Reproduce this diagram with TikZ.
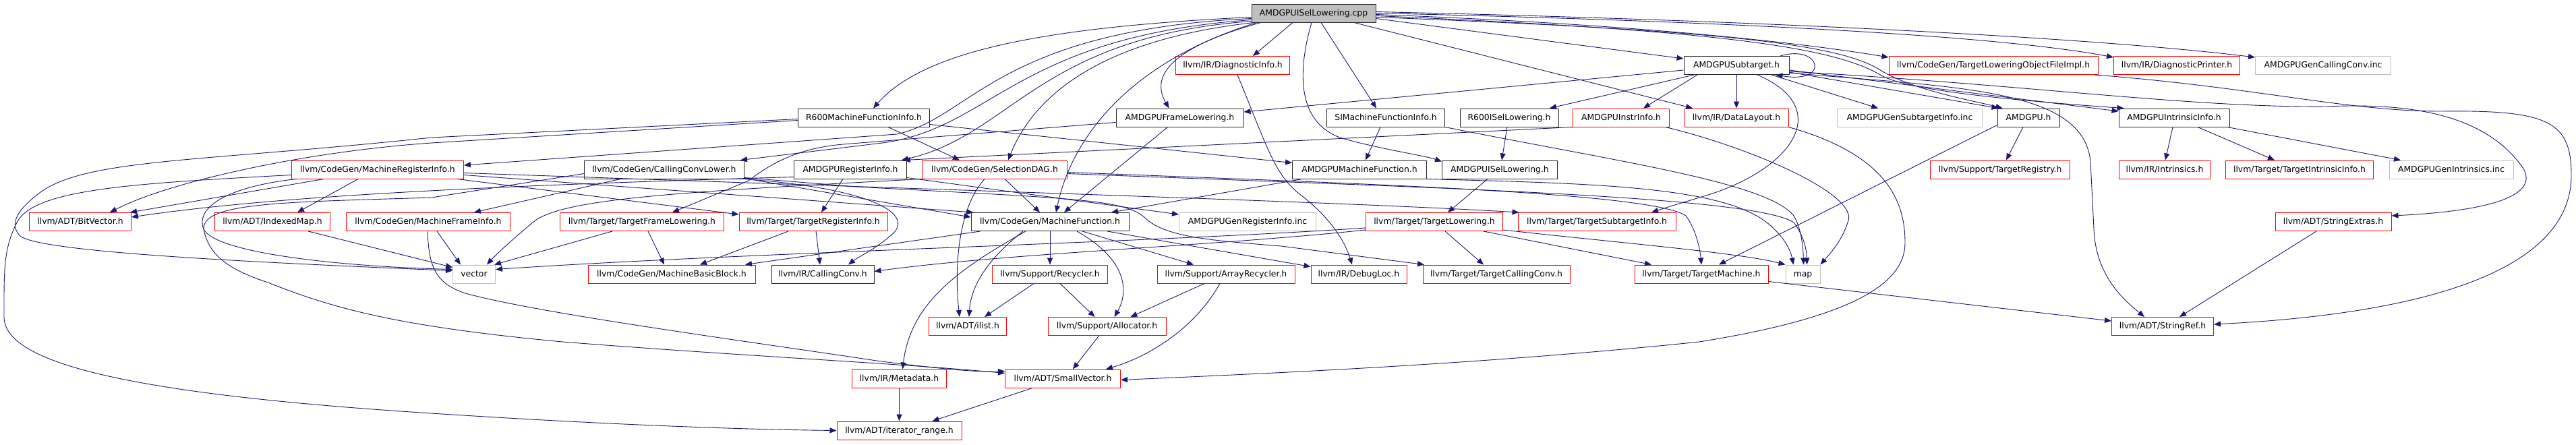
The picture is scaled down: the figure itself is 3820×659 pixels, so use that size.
\documentclass[tikz,border=0pt]{standalone}
\usepackage{fontspec}
\setmainfont{DejaVu Sans}
\usetikzlibrary{arrows.meta}
\definecolor{edgec}{RGB}{25,25,112}
\definecolor{redc}{RGB}{255,0,0}
\definecolor{grayc}{RGB}{191,191,191}
\definecolor{blkc}{RGB}{40,40,40}
\newcommand{\nf}{\fontsize{12.4}{14}\selectfont}
\begin{document}
\begin{tikzpicture}[x=1pt,y=-1pt,
  box/.style={draw, rectangle, minimum height=27pt, inner sep=0pt, line width=1pt,
              font=\nf, text=black, fill=white, text height=9.5pt, text depth=2.5pt},
  blk/.style={box, draw=blkc},
  redb/.style={box, draw=redc},
  grayb/.style={box, draw=grayc},
  rootb/.style={box, draw=blkc, fill=grayc},
  edg/.style={draw=edgec, line width=0.9pt, -{Triangle[length=10pt,width=8pt]}}]
\fill[white] (0,0) rectangle (3820,659);
\useasboundingbox (0,0) rectangle (3820,659);

% ---------- nodes ----------
\node[rootb, minimum width=184pt] (root) at (1948,19.5) {AMDGPUISelLowering.cpp};
% row 1
\node[redb, minimum width=169pt] (diaginfo) at (1828,97) {llvm/IR/DiagnosticInfo.h};
\node[blk, minimum width=156pt] (subtarget) at (2575,97) {AMDGPUSubtarget.h};
\node[redb, minimum width=310pt] (tloofi) at (2956,97) {llvm/CodeGen/TargetLoweringObjectFileImpl.h};
\node[redb, minimum width=187pt] (diagprinter) at (3228,97) {llvm/IR/DiagnosticPrinter.h};
\node[grayb, minimum width=201pt] (gencc) at (3445,97) {AMDGPUGenCallingConv.inc};
% row 2
\node[blk, minimum width=195pt] (r600mfi) at (1281,174.5) {R600MachineFunctionInfo.h};
\node[blk, minimum width=189pt] (framelow) at (1749.5,174.5) {AMDGPUFrameLowering.h};
\node[blk, minimum width=175pt] (simfi) at (2055,174.5) {SIMachineFunctionInfo.h};
\node[blk, minimum width=146pt] (r600isel) at (2238,174.5) {R600ISelLowering.h};
\node[redb, minimum width=143pt] (instrinfo) at (2404,174.5) {AMDGPUInstrInfo.h};
\node[redb, minimum width=154pt] (datalayout) at (2575,174.5) {llvm/IR/DataLayout.h};
\node[grayb, minimum width=215pt] (gensti) at (2832,174.5) {AMDGPUGenSubtargetInfo.inc};
\node[blk, minimum width=92pt] (amdgpu) at (3008,174.5) {AMDGPU.h};
\node[blk, minimum width=164pt] (intrinfo) at (3224,174.5) {AMDGPUIntrinsicInfo.h};
% row 3
\node[redb, minimum width=255pt] (mri) at (560,251.5) {llvm/CodeGen/MachineRegisterInfo.h};
\node[blk, minimum width=237pt] (ccl) at (985,251.5) {llvm/CodeGen/CallingConvLower.h};
\node[blk, minimum width=167pt] (reginfo) at (1261,251.5) {AMDGPURegisterInfo.h};
\node[redb, minimum width=215pt] (seldag) at (1475,251.5) {llvm/CodeGen/SelectionDAG.h};
\node[blk, minimum width=199pt] (amdgpumf) at (2016,251.5) {AMDGPUMachineFunction.h};
\node[blk, minimum width=171pt] (isel) at (2224,251.5) {AMDGPUISelLowering.h};
\node[redb, minimum width=207pt] (treg) at (2966,251.5) {llvm/Support/TargetRegistry.h};
\node[redb, minimum width=135pt] (intrinsics) at (3210,251.5) {llvm/IR/Intrinsics.h};
\node[redb, minimum width=219pt] (tii) at (3410,251.5) {llvm/Target/TargetIntrinsicInfo.h};
\node[grayb, minimum width=184pt] (genintr) at (3635,251.5) {AMDGPUGenIntrinsics.inc};
% row 4
\node[redb, minimum width=151pt] (bitvec) at (119,329) {llvm/ADT/BitVector.h};
\node[redb, minimum width=171pt] (idxmap) at (404,329) {llvm/ADT/IndexedMap.h};
\node[redb, minimum width=243pt] (mfi) at (635,329) {llvm/CodeGen/MachineFrameInfo.h};
\node[redb, minimum width=243pt] (tfl) at (952,329) {llvm/Target/TargetFrameLowering.h};
\node[redb, minimum width=220pt] (tri) at (1206,329) {llvm/Target/TargetRegisterInfo.h};
\node[blk, minimum width=234pt] (mf) at (1557,329) {llvm/CodeGen/MachineFunction.h};
\node[grayb, minimum width=203pt] (genreg) at (1850,329) {AMDGPUGenRegisterInfo.inc};
\node[redb, minimum width=203pt] (tl) at (2127,329) {llvm/Target/TargetLowering.h};
\node[redb, minimum width=234pt] (tsi) at (2368,329) {llvm/Target/TargetSubtargetInfo.h};
\node[redb, minimum width=172pt] (strext) at (3460,329) {llvm/ADT/StringExtras.h};
% row 5
\node[grayb, minimum width=63pt] (vector) at (703,406.5) {vector};
\node[redb, minimum width=248pt] (mbb) at (996,406.5) {llvm/CodeGen/MachineBasicBlock.h};
\node[blk, minimum width=152pt] (callconv) at (1220,406.5) {llvm/IR/CallingConv.h};
\node[redb, minimum width=171pt] (recycler) at (1557,406.5) {llvm/Support/Recycler.h};
\node[redb, minimum width=204pt] (arrayrec) at (1818,406.5) {llvm/Support/ArrayRecycler.h};
\node[redb, minimum width=142pt] (debugloc) at (2015,406.5) {llvm/IR/DebugLoc.h};
\node[redb, minimum width=218pt] (tcc) at (2219,406.5) {llvm/Target/TargetCallingConv.h};
\node[redb, minimum width=198pt] (tm) at (2523,406.5) {llvm/Target/TargetMachine.h};
\node[grayb, minimum width=51pt] (map) at (2673.5,406.5) {map};
% row 6
\node[redb, minimum width=115pt] (ilist) at (1435,484) {llvm/ADT/ilist.h};
\node[redb, minimum width=175pt] (alloc) at (1641.5,484) {llvm/Support/Allocator.h};
\node[redb, minimum width=151pt] (stringref) at (3207,484) {llvm/ADT/StringRef.h};
% row 7
\node[redb, minimum width=140pt] (metadata) at (1333.5,561.5) {llvm/IR/Metadata.h};
\node[redb, minimum width=171pt] (smallvec) at (1576,561.5) {llvm/ADT/SmallVector.h};
% row 8
\node[redb, minimum width=185pt] (iterrange) at (1333.5,638.5) {llvm/ADT/iterator\_range.h};

% ---------- edges from root ----------
\draw[edg] ([yshift=-6pt]root.west) .. controls (1550,40) and (1370,75) .. ([xshift=14pt]r600mfi.north);
\draw[edg] ([yshift=-8pt]root.west) .. controls (1480,45) and (1440,175) .. (1330,199) -- ([yshift=6.5pt]mri.east);
\draw[edg] ([yshift=-10pt]root.west) .. controls (1500,55) and (1470,195) .. (1300,213) -- ([xshift=113pt]ccl.north);
\draw[edg] ([yshift=-12pt]root.west) .. controls (1540,55) and (1500,200) .. ([xshift=76pt]reginfo.north);
\draw[edg] ([xshift=4pt]root.south west) .. controls (1620,60) and (1530,150) .. ([xshift=20pt]seldag.north);
\draw[edg] ([xshift=8pt]root.south west) .. controls (1680,90) and (1590,200) .. ([xshift=9pt]mf.north);
\draw[edg] ([xshift=14pt]root.south west) .. controls (1720,75) and (1710,120) .. ([xshift=-16pt]framelow.north);
\draw[edg] ([xshift=-31pt]root.south) -- ([xshift=30pt]diaginfo.north);
\draw[edg] ([xshift=-3pt]root.south) .. controls (1920,120) and (1930,185) .. (1990,205) .. controls (2050,222) and (2110,230) .. ([yshift=-2pt]isel.north west);
\draw[edg] ([xshift=11pt]root.south) -- ([xshift=-14pt]simfi.north);
\draw[edg] ([xshift=60pt]root.south) -- ([xshift=-65pt]datalayout.north);
\draw[edg] ([yshift=-8pt]root.east) -- ([yshift=10pt]subtarget.west);
\draw[edg] ([yshift=-6pt]root.east) .. controls (2550,45) and (2730,65) .. (2790,105) .. controls (2840,135) and (2930,150) .. ([xshift=8pt]amdgpu.north west);
\draw[edg] ([yshift=-4pt]root.east) .. controls (2550,45) and (2720,70) .. (2790,112) .. controls (2830,135) and (3000,150) .. ([xshift=8pt]intrinfo.north west);
\draw[edg] ([yshift=-2pt]root.east) .. controls (2400,35) and (2650,60) .. ([yshift=12pt]tloofi.west);
\draw[edg] ([yshift=0pt]root.east) .. controls (2500,30) and (2950,50) .. ([yshift=12pt]diagprinter.west);
\draw[edg] ([yshift=2pt]root.east) .. controls (2600,30) and (3100,55) .. ([yshift=12pt]gencc.west);

% ---------- AMDGPUSubtarget.h ----------
\draw[edg] ([xshift=65pt]subtarget.north) .. controls (2700,65) and (2715,125) .. ([xshift=-20pt]subtarget.south east);
\draw[edg] ([yshift=-7pt]subtarget.west) -- ([yshift=8.5pt]framelow.east);
\draw[edg] ([xshift=-63pt]subtarget.south) -- ([xshift=60pt]r600isel.north);
\draw[edg] ([xshift=-58pt]subtarget.south) -- ([xshift=33pt]instrinfo.north);
\draw[edg] (subtarget.south) -- (datalayout.north);
\draw[edg] ([xshift=52pt]subtarget.south) -- ([xshift=-47pt]gensti.north);
\draw[edg] ([yshift=-10pt]subtarget.east) -- ([xshift=2pt]amdgpu.north west);
\draw[edg] ([yshift=-7pt]subtarget.east) -- ([yshift=9.5pt]intrinfo.west);
\draw[edg] ([xshift=31pt]subtarget.south) .. controls (2720,160) and (2660,250) .. (2530,290) .. controls (2490,302) and (2470,308) .. ([xshift=81pt]tsi.north);
\draw[edg] ([yshift=-9pt]subtarget.east) .. controls (3000,125) and (3250,160) .. (3450,158) .. controls (3620,150) and (3700,190) .. (3742,250) .. controls (3770,300) and (3650,315) .. ([yshift=9pt]strext.east);
\draw[edg] ([yshift=-11pt]subtarget.east) .. controls (2900,130) and (3090,130) .. (3100,240) -- (3105,340) .. controls (3108,410) and (3150,445) .. ([xshift=-27pt]stringref.north);

% ---------- other row-1 nodes ----------
\draw[edg] ([xshift=-5pt]tloofi.south east) .. controls (3350,130) and (3480,165) .. (3620,165) .. controls (3780,163) and (3813,180) .. (3813,260) .. controls (3813,400) and (3600,465) .. ([yshift=3pt]stringref.east);
\draw[edg] ([xshift=7pt]diaginfo.south) .. controls (1880,220) and (1890,260) .. (1930,290) .. controls (1975,325) and (1995,360) .. ([xshift=-10pt]debugloc.north);

% ---------- row 2 ----------
\draw[edg] ([xshift=-18pt]framelow.south) -- ([xshift=21pt]mf.north);
\draw[edg] ([yshift=-7pt]framelow.west) -- (1250,214) .. controls (1180,220) and (1140,245) .. (1110,268) -- ([xshift=45pt]tfl.north);
\draw[edg] ([xshift=36pt]r600mfi.south) -- ([xshift=-52pt]seldag.north);
\draw[edg] ([yshift=-10pt]r600mfi.east) -- ([yshift=10pt]amdgpumf.west);
\draw[edg] ([yshift=-4pt]r600mfi.west) -- (640,212) .. controls (450,225) and (250,270) .. ([xshift=44pt]bitvec.north);
\draw[edg] ([yshift=-2pt]r600mfi.west) -- (640,204) .. controls (300,240) and (130,235) .. (60,285) .. controls (20,315) and (15,335) .. (30,350) .. controls (60,375) and (400,390) .. ([yshift=5pt]vector.west);
\draw[edg] ([xshift=-8pt]simfi.south) -- ([xshift=9pt]amdgpumf.north);
\draw[edg] (simfi.south east) .. controls (2400,240) and (2620,270) .. (2660,320) .. controls (2672,340) and (2674,370) .. ([xshift=1pt]map.north);
\draw[edg] ([xshift=-3pt]r600isel.south) -- ([xshift=3pt]isel.north);
\draw[edg] (instrinfo.south west) -- ([xshift=79pt]reginfo.north);
\draw[edg] ([xshift=66pt]instrinfo.south) .. controls (2600,220) and (2760,290) .. (2740,330) .. controls (2730,360) and (2712,378) .. (map.north east);
\draw[edg] ([xshift=-8pt]amdgpu.south) -- ([xshift=9pt]treg.north);
\draw[edg] ([yshift=-11pt]amdgpu.west) -- ([xshift=26pt]tm.north);
\draw[edg] ([xshift=-2pt]intrinfo.south) -- ([xshift=1pt]intrinsics.north);
\draw[edg] ([xshift=35pt]intrinfo.south) -- ([xshift=-37pt]tii.north);
\draw[edg] ([xshift=79pt]intrinfo.south) -- ([xshift=-75pt]genintr.north);
\draw[edg] (datalayout.south east) .. controls (2800,230) and (2825,300) .. (2825,360) .. controls (2825,420) and (2750,470) .. (2520,507) .. controls (2200,540) and (1900,553) .. ([yshift=-2pt]smallvec.east);

% ---------- row 3 ----------
\draw[edg] ([yshift=-8pt]mri.west) .. controls (200,272) and (50,280) .. (25,330) .. controls (5,370) and (6,400) .. (6,470) .. controls (6,540) and (200,585) .. (640,613) .. controls (900,630) and (1100,637) .. (iterrange.west);
\draw[edg] ([xshift=-80pt]mri.south) -- ([xshift=-2pt]bitvec.north east);
\draw[edg] ([xshift=-29pt]mri.south) -- ([xshift=37pt]idxmap.north);
\draw[edg] ([xshift=7pt]mri.south west) .. controls (330,278) and (290,310) .. (302,340) .. controls (320,375) and (500,395) .. ([yshift=7pt]vector.west);
\draw[edg] ([yshift=-8pt]mri.east) -- ([xshift=4pt]mf.north west);
\draw[edg] ([yshift=-5pt]mri.east) .. controls (1500,285) and (2000,300) .. ([xshift=2pt]tsi.north west);
\draw[edg] ([xshift=-10pt]mri.south east) -- ([yshift=11pt]tri.west);

\draw[edg] ([yshift=-6pt]ccl.west) -- (640,293) .. controls (420,300) and (300,300) .. (302,340) .. controls (310,380) and (340,400) .. (400,420) .. controls (500,460) and (600,485) .. (834,507) .. controls (1100,528) and (1350,540) .. ([yshift=8pt]smallvec.west);
\draw[edg] ([xshift=-65pt]ccl.south) -- ([xshift=68pt]mfi.north);
\draw[edg] (ccl.south east) .. controls (1300,280) and (1360,320) .. (1320,350) .. controls (1300,368) and (1270,383) .. ([xshift=38pt]callconv.north);
\draw[edg] ([yshift=-12pt]ccl.east) -- (1270,277) .. controls (1600,295) and (1670,295) .. (1700,325) .. controls (1730,352) and (1800,357) .. (1900,365) -- ([xshift=-107pt]tcc.north);
\draw[edg] ([yshift=-13pt]ccl.east) -- ([yshift=7pt]mf.west);

\draw[edg] ([yshift=-11pt]reginfo.west) .. controls (700,276) and (400,292) .. ([yshift=7pt]bitvec.east);
\draw[edg] ([xshift=-11pt]reginfo.south) -- ([xshift=12pt]tri.north);
\draw[edg] ([yshift=-12pt]reginfo.east) -- ([yshift=11pt]genreg.west);

\draw[edg] ([xshift=15pt]seldag.south) -- ([xshift=-15pt]mf.north);
\draw[edg] ([xshift=-15pt]seldag.south) .. controls (1420,310) and (1415,400) .. ([xshift=-12pt]ilist.north);
\draw[edg] (seldag.south west) .. controls (1000,285) and (830,295) .. (790,330) .. controls (760,355) and (735,378) .. ([xshift=19pt]vector.north);
\draw[edg] ([yshift=-4pt]seldag.east) .. controls (2000,272) and (2450,285) .. (2500,320) .. controls (2515,340) and (2521,370) .. (tm.north);
\draw[edg] ([yshift=-6pt]seldag.east) .. controls (2100,278) and (2600,290) .. (2660,330) .. controls (2675,350) and (2679,370) .. ([xshift=6pt]map.north);

\draw[edg] ([xshift=-85pt]amdgpumf.south) -- ([xshift=91pt]mf.north);
\draw[edg] (amdgpumf.south east) .. controls (2350,272) and (2550,275) .. (2620,330) .. controls (2645,350) and (2655,370) .. ([xshift=-14pt]map.north);
\draw[edg] ([xshift=-18pt]isel.south) -- ([xshift=20pt]tl.north);

% ---------- row 4 ----------
\draw[edg] ([yshift=-9pt]tl.west) .. controls (1700,360) and (1100,375) .. ([yshift=7pt]vector.east);
\draw[edg] ([yshift=-12pt]tl.west) .. controls (1800,365) and (1500,375) .. ([yshift=4pt]callconv.east);
\draw[edg] ([xshift=16pt]tl.south) -- ([xshift=-19pt]tcc.north);
\draw[edg] ([xshift=73pt]tl.south) -- ([xshift=-74pt]tm.north);
\draw[edg] ([yshift=-12pt]tl.east) .. controls (2400,360) and (2580,375) .. (map.north west);

\draw[edg] ([xshift=-37pt]tri.south) -- ([xshift=42pt]mbb.north);
\draw[edg] ([xshift=4pt]tri.south) -- ([xshift=-4pt]callconv.north);
\draw[edg] ([xshift=-44pt]tfl.south) -- ([xshift=-2pt]vector.north east);
\draw[edg] ([xshift=9pt]tfl.south) -- ([xshift=-11pt]mbb.north);
\draw[edg] ([xshift=13pt]mfi.south) -- ([xshift=-20pt]vector.north);
\draw[edg] ([xshift=-1pt]mfi.south) .. controls (636,395) and (645,420) .. (690,435) .. controls (800,465) and (1100,505) .. (1300,535) .. controls (1400,548) and (1450,552) .. ([yshift=11pt]smallvec.west);
\draw[edg] ([xshift=53pt]idxmap.south) -- ([yshift=10pt]vector.west);

\draw[edg] ([xshift=-103pt]mf.south) -- ([xshift=109pt]mbb.north);
\draw[edg] ([xshift=-40pt]mf.south) .. controls (1470,380) and (1440,420) .. ([xshift=2pt]ilist.north);
\draw[edg] ([xshift=-36pt]mf.south) .. controls (1420,400) and (1350,450) .. ([xshift=5pt]metadata.north);
\draw[edg] (mf.south) -- (recycler.north);
\draw[edg] ([xshift=40pt]mf.south) .. controls (1680,390) and (1670,440) .. ([xshift=11pt]alloc.north);
\draw[edg] ([xshift=48pt]mf.south) -- ([xshift=-48pt]arrayrec.north);
\draw[edg] ([xshift=85pt]mf.south) -- ([yshift=11pt]debugloc.west);
\draw[edg] ([xshift=-25pt]strext.south) -- ([xshift=25pt]stringref.north);

% ---------- row 5 and below ----------
\draw[edg] ([xshift=-24pt]recycler.south) -- ([xshift=25pt]ilist.north);
\draw[edg] ([xshift=15pt]recycler.south) -- ([xshift=-18pt]alloc.north);
\draw[edg] ([xshift=-32pt]arrayrec.south) -- ([xshift=35pt]alloc.north);
\draw[edg] ([xshift=-9pt]arrayrec.south) .. controls (1770,490) and (1700,530) .. ([xshift=64pt]smallvec.north);
\draw[edg] ([yshift=-11pt]tm.east) -- ([yshift=8pt]stringref.west);
\draw[edg] ([xshift=-12pt]alloc.south) -- ([xshift=15pt]smallvec.north);
\draw[edg] (metadata.south) -- (iterrange.north);
\draw[edg] ([xshift=-45pt]smallvec.south) -- ([xshift=49pt]iterrange.north);
\end{tikzpicture}
\end{document}
